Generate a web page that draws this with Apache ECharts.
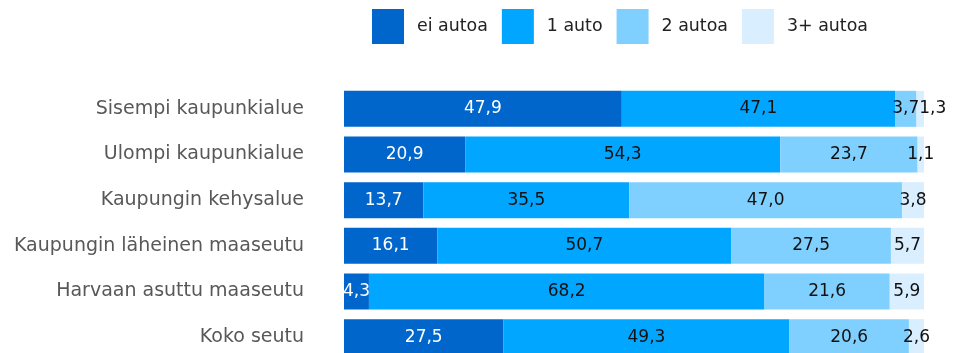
<!DOCTYPE html>
<html>
<head>
<meta charset="utf-8">
<script src="https://cdn.jsdelivr.net/npm/echarts@6/dist/echarts.min.js"></script>
<style>
  html, body { margin: 0; padding: 0; background: #fff; }
  #chart { width: 956px; height: 353px; }
</style>
</head>
<body>
<div id="chart"></div>
<script>
// Car ownership by area type (share of households, %)
const categories = [
  'Sisempi kaupunkialue',
  'Ulompi kaupunkialue',
  'Kaupungin kehysalue',
  'Kaupungin läheinen maaseutu',
  'Harvaan asuttu maaseutu',
  'Koko seutu'
];
const seriesNames = ['ei autoa', '1 auto', '2 autoa', '3+ autoa'];
const noCar    = [47.9, 20.9, 13.7, 16.1, 4.3, 27.5];
const oneCar   = [47.1, 54.3, 35.5, 50.7, 68.2, 49.3];
const twoCars  = [3.7, 23.7, 47.0, 27.5, 21.6, 20.6];
const threePlus = [1.3, 1.1, 3.8, 5.7, 5.9, 2.6];

const values = [noCar, oneCar, twoCars, threePlus];
const colors = ['#0066CC', '#00A6FF', '#80D0FF', '#D9EFFF'];
const labelColors = ['#ffffff', '#111111', '#111111', '#111111'];
const FONT = '"DejaVu Sans", Verdana, sans-serif';

// Push the last segment's label to the right when it would collide with
// the label of a narrow neighbouring segment.
function avoidNeighbourLabel(params) {
  if (params.seriesIndex !== values.length - 1) return {};
  const i = params.dataIndex;
  const cur = values[values.length - 1][i];
  const prev = values[values.length - 2][i];
  const prevW = params.rect.width * prev / cur;
  const prevRight = params.rect.x - prevW / 2 + params.labelRect.width / 2;
  const overlap = prevRight - params.labelRect.x;
  return overlap > 0 ? { dx: overlap } : {};
}

const chart = echarts.init(document.getElementById('chart'), null, { renderer: 'canvas' });

chart.setOption({
  animation: false,
  textStyle: { fontFamily: FONT },
  legend: {
    left: 372,
    top: 9,
    padding: 0,
    itemWidth: 32,
    itemHeight: 35,
    itemGap: 14,
    icon: 'rect',
    textStyle: { fontSize: 17.4, color: '#222', fontFamily: FONT, padding: [0, 0, 0, 8] },
    data: seriesNames
  },
  grid: { left: 344, width: 580, top: 86, height: 274, containLabel: false, outerBoundsMode: 'none' },
  xAxis: {
    type: 'value', min: 0, max: 100, show: false
  },
  yAxis: {
    type: 'category',
    inverse: true,
    data: categories,
    axisLine: { show: false },
    axisTick: { show: false },
    axisLabel: { margin: 40, fontSize: 19, color: '#585858', fontFamily: FONT }
  },
  series: seriesNames.map((name, i) => ({
    name: name,
    type: 'bar',
    stack: 'total',
    barWidth: 36,
    itemStyle: { color: colors[i] },
    label: {
      show: true,
      position: 'inside',
      fontSize: 17,
      fontFamily: FONT,
      color: labelColors[i],
      formatter: p => p.value.toFixed(1).replace('.', ',')
    },
    labelLayout: i === values.length - 1 ? avoidNeighbourLabel : undefined,
    data: values[i]
  }))
});
</script>
</body>
</html>
